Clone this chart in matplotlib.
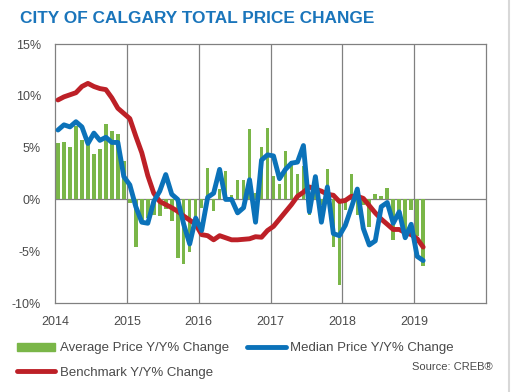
import numpy as np
import matplotlib
matplotlib.use('Agg')
import matplotlib.pyplot as plt
from matplotlib.patches import Patch
from matplotlib.lines import Line2D

plt.rcParams['font.family'] = ['Liberation Sans', 'DejaVu Sans']

# monthly Y/Y % change, Jan 2014 .. Feb 2019
avg_price = [5.4, 5.5, 5.1, 7.1, 5.7, 5.5, 4.4, 4.9, 7.3, 6.6, 6.3, 3.7,
             -0.3, -4.6, -2.0, -1.8, -1.5, -1.6, -0.9, -2.1, -5.7, -6.2, -5.1, -2.0,
             -0.8, 3.0, -1.1, 1.0, 2.7, 0.4, 1.9, 1.9, 6.8, 0.6, 5.1, 6.9,
             2.3, 1.5, 4.7, 3.7, 2.5, 3.2, -1.5, 0.8, -0.5, 2.9, -4.6, -8.3,
             -1.0, 2.5, -1.5, -0.5, -2.7, 0.5, 0.3, 1.1, -3.9, -1.3, -3.0, -1.0,
             -3.5, -6.4]
median_price = [6.7, 7.2, 7.0, 7.5, 7.0, 5.4, 6.4, 5.7, 6.0, 5.5, 5.5, 2.2,
                1.4, -0.7, -2.2, -2.3, -0.2, 0.8, 2.4, 0.5, 0.0, -2.4, -4.3, -1.8,
                -3.0, 0.2, 0.6, 2.9, 0.0, 0.0, -1.3, -0.8, 1.9, -2.2, 3.8, 4.3,
                4.2, 2.0, 2.9, 3.5, 3.6, 5.2, -1.2, 2.2, -2.2, 1.2, -3.3, -3.5,
                -2.5, -0.8, 1.0, -2.8, -4.4, -4.0, -0.7, -0.3, -2.3, -1.2, -3.7, -2.4,
                -5.5, -5.9]
benchmark = [9.6, 9.9, 10.1, 10.3, 10.9, 11.2, 10.9, 10.7, 10.6, 9.8, 8.8, 8.3,
             7.8, 6.1, 4.5, 2.3, 0.6, -0.2, -0.5, -0.8, -1.15, -1.6, -2.0, -2.4,
             -3.4, -3.5, -3.9, -3.5, -3.7, -3.9, -3.9, -3.85, -3.8, -3.6, -3.65, -3.0,
             -2.6, -1.9, -1.2, -0.5, 0.3, 0.7, 1.2, 1.0, 0.8, 0.5, 0.4, -0.2,
             -0.1, 0.3, 0.3, 0.1, -0.6, -1.3, -1.9, -2.4, -2.9, -2.9, -3.2, -3.4,
             -3.8, -4.6]
years = [2014, 2015, 2016, 2017, 2018, 2019]
y_ticks = [15, 10, 5, 0, -5, -10]

green, blue, red = '#7ab648', '#0b72b9', '#bd2027'
t = 2014 + (np.arange(len(avg_price)) + 0.5) / 12

fig = plt.figure(figsize=(5.13, 3.92), dpi=100)
ax = fig.add_axes([0.1072, 0.2270, 0.8402, 0.6607])

ax.bar(t, avg_price, width=0.05, color=green, zorder=2)
ax.plot(t, benchmark, color=red, lw=3.5, solid_capstyle='round', solid_joinstyle='round', zorder=3)
ax.plot(t, median_price, color=blue, lw=3.5, solid_capstyle='round', solid_joinstyle='round', zorder=4)

ax.set_xlim(2014, 2020)
ax.set_ylim(-10, 15)
ax.set_xticks(years)
ax.set_xticklabels([str(y) for y in years])
ax.set_yticks(y_ticks)
ax.set_yticklabels(['%d%%' % v for v in y_ticks])
ax.tick_params(length=0, labelsize=9, colors='#4a4a4a')
ax.tick_params(axis='y', pad=10)
ax.tick_params(axis='x', pad=9)
for x in years[1:]:
    ax.axvline(x, color='#808080', lw=0.9, zorder=1)
ax.axhline(0, color='#808080', lw=0.9, zorder=1)
for s in ax.spines.values():
    s.set_color('#808080')
    s.set_linewidth(0.9)

fig.text(0.039, 0.953, 'CITY OF CALGARY TOTAL PRICE CHANGE', color='#1a75bb',
         fontsize=12.4, fontweight='bold', va='center', ha='left')

handles = [Patch(color=green), Line2D([], [], color=red, lw=3.5, solid_capstyle='round'),
           Line2D([], [], color=blue, lw=3.5, solid_capstyle='round')]
labels = ['Average Price Y/Y% Change', 'Benchmark Y/Y% Change', 'Median Price Y/Y% Change']
fig.legend(handles, labels, loc='upper left', bbox_to_anchor=(0.033, 0.127), ncol=2,
           frameon=False, fontsize=9.5, handlelength=2.9, handleheight=0.55,
           handletextpad=0.35, columnspacing=1.4, labelspacing=0.95,
           borderpad=0, borderaxespad=0, labelcolor='#4a4a4a')
fig.text(0.96, 0.063, 'Source: CREB®', fontsize=8, color='#4a4a4a', ha='right', va='center')
fig.add_artist(Line2D([0.993, 0.993], [0, 1], color='#d8d8d8', lw=1.5))

fig.savefig('out.png', dpi=100)
